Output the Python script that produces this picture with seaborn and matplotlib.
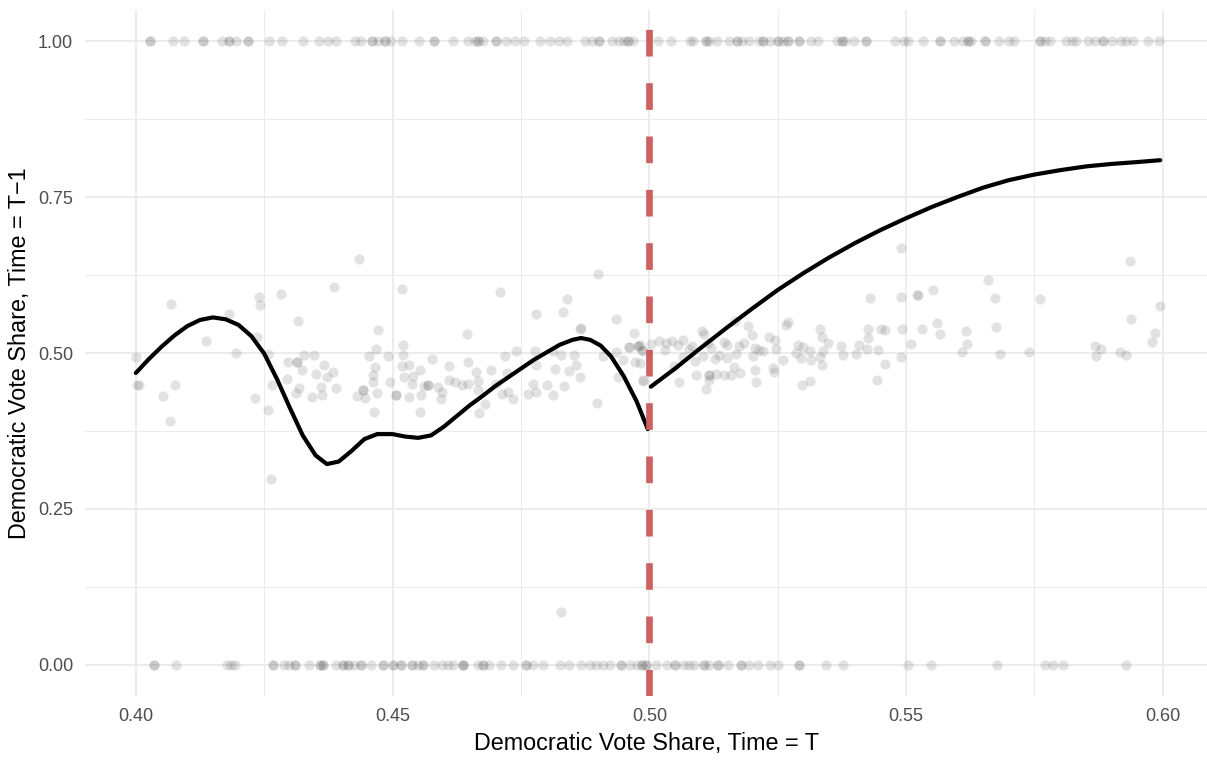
import matplotlib
matplotlib.use("Agg")
import matplotlib.pyplot as plt
import seaborn as sns
import pandas as pd
from matplotlib.ticker import MultipleLocator, FormatStrFormatter

# ---- data ----
top_x = [0.4028, 0.4028, 0.4073, 0.4094, 0.4131, 0.4131, 0.4167, 0.4181, 0.4181, 0.4196,
         0.4219, 0.4219, 0.4260, 0.4285, 0.4325, 0.4356, 0.4374, 0.4390, 0.4427, 0.4438,
         0.4460, 0.4460, 0.4472, 0.4486, 0.4486, 0.4497, 0.4519, 0.4552, 0.4580, 0.4580,
         0.4618, 0.4646, 0.4660, 0.4667, 0.4667, 0.4677, 0.4701, 0.4701, 0.4721, 0.4738,
         0.4756, 0.4788, 0.4806, 0.4825, 0.4840, 0.4874, 0.4889, 0.4901, 0.4901, 0.4927,
         0.4941, 0.4951, 0.4958, 0.4958, 0.4969,
         0.5017, 0.5042, 0.5080, 0.5086, 0.5111, 0.5111, 0.5117, 0.5131, 0.5155, 0.5171,
         0.5171, 0.5181, 0.5194, 0.5214, 0.5222, 0.5222, 0.5235, 0.5251, 0.5251, 0.5261,
         0.5271, 0.5271, 0.5291, 0.5291, 0.5315, 0.5328, 0.5365, 0.5375, 0.5375, 0.5382,
         0.5399, 0.5421, 0.5421, 0.5479, 0.5496, 0.5503, 0.5533, 0.5566, 0.5566, 0.5593,
         0.5610, 0.5620, 0.5620, 0.5626, 0.5653, 0.5653, 0.5680, 0.5700, 0.5710, 0.5760,
         0.5760, 0.5771, 0.5781, 0.5811, 0.5824, 0.5831, 0.5854, 0.5868, 0.5884, 0.5884,
         0.5901, 0.5918, 0.5928, 0.5942, 0.5972, 0.5993]

bottom_x = [0.4035, 0.4035, 0.4078, 0.4177, 0.4186, 0.4194, 0.4267, 0.4267, 0.4288, 0.4299,
            0.4309, 0.4309, 0.4337, 0.4358, 0.4358, 0.4365, 0.4365, 0.4389, 0.4403, 0.4403,
            0.4413, 0.4413, 0.4424, 0.4438, 0.4438, 0.4458, 0.4481, 0.4481, 0.4500, 0.4500,
            0.4517, 0.4517, 0.4538, 0.4538, 0.4549, 0.4559, 0.4559, 0.4580, 0.4597, 0.4608,
            0.4618, 0.4637, 0.4637, 0.4637, 0.4667, 0.4677, 0.4677, 0.4688, 0.4712, 0.4734,
            0.4760, 0.4760, 0.4774, 0.4792, 0.4826, 0.4844, 0.4867, 0.4885, 0.4896, 0.4910,
            0.4924, 0.4944, 0.4944, 0.4962, 0.4976, 0.4986, 0.4986,
            0.4993, 0.4993, 0.5013, 0.5034, 0.5050, 0.5050, 0.5067, 0.5077, 0.5087, 0.5107,
            0.5107, 0.5117, 0.5134, 0.5134, 0.5154, 0.5178, 0.5178, 0.5194, 0.5211, 0.5235,
            0.5251, 0.5291, 0.5291, 0.5345, 0.5377, 0.5503, 0.5549, 0.5677, 0.5771, 0.5787,
            0.5806, 0.5928]

mid_x = [0.4434, 0.4386, 0.4069, 0.4239, 0.4242, 0.4282, 0.4316, 0.4182, 0.4136, 0.4236,
         0.4195, 0.4258, 0.4001, 0.4297, 0.4314, 0.4314, 0.4327, 0.4347, 0.4323, 0.4366,
         0.4351, 0.4383, 0.4372, 0.4295, 0.4002, 0.4006, 0.4076, 0.4266, 0.4361, 0.4390,
         0.4317, 0.4312, 0.4343, 0.4362, 0.4053, 0.4232, 0.4257, 0.4066, 0.4264, 0.4431,
         # 0.445 - 0.50
         0.4518, 0.4709, 0.4900, 0.4839, 0.4831, 0.4779, 0.4935, 0.4471, 0.4645, 0.4864,
         0.4867, 0.4971, 0.4468, 0.4520, 0.4455, 0.4492, 0.4521, 0.4576, 0.4718, 0.4741,
         0.4778, 0.4812, 0.4828, 0.4854, 0.4909, 0.4936, 0.4948, 0.4961, 0.4961, 0.4977,
         0.4977, 0.4987, 0.4973, 0.4465, 0.4518, 0.4532, 0.4554, 0.4609, 0.4646, 0.4662,
         0.4692, 0.4723, 0.4779, 0.4817, 0.4844, 0.4857, 0.4461, 0.4523, 0.4540, 0.4864,
         0.4461, 0.4494, 0.4538, 0.4609, 0.4621, 0.4635, 0.4646, 0.4666, 0.4701, 0.4562,
         0.4569, 0.4569, 0.4589, 0.4596, 0.4667, 0.4773, 0.4800, 0.4834, 0.4938, 0.4987,
         0.4442, 0.4442, 0.4447, 0.4469, 0.4507, 0.4507, 0.4531, 0.4555, 0.4595, 0.4713,
         0.4724, 0.4734, 0.4764, 0.4780, 0.4812, 0.4464, 0.4553, 0.4668, 0.4680, 0.4898,
         0.4828,
         # 0.50 - 0.55
         0.5490, 0.5430, 0.5490, 0.5521, 0.5166, 0.5192, 0.5199, 0.5266, 0.5271, 0.5103,
         0.5106, 0.5332, 0.5336, 0.5347, 0.5426, 0.5426, 0.5452, 0.5459, 0.5492, 0.5510,
         0.4981, 0.4986, 0.5003, 0.5019, 0.5032, 0.5045, 0.5065, 0.5031, 0.5055, 0.5078,
         0.5084, 0.5114, 0.5120, 0.5146, 0.5151, 0.5175, 0.5185, 0.5205, 0.5221, 0.5234,
         0.5244, 0.5247, 0.5289, 0.5299, 0.5286, 0.5313, 0.5338, 0.5374, 0.5377, 0.5403,
         0.5409, 0.5423, 0.5445, 0.5490, 0.5065, 0.5088, 0.5104, 0.5127, 0.5136, 0.5151,
         0.5169, 0.5201, 0.5214, 0.5260, 0.5296, 0.5315, 0.5332, 0.5336, 0.5458, 0.4981,
         0.5048, 0.5091, 0.5117, 0.5117, 0.5129, 0.5146, 0.5159, 0.5177, 0.5164, 0.5205,
         0.5240, 0.5242, 0.5117, 0.5110, 0.5058, 0.5208, 0.4987, 0.5297, 0.5312, 0.5443,
         # 0.55 - 0.60
         0.5936, 0.5660, 0.5523, 0.5553, 0.5673, 0.5761, 0.5995, 0.5938, 0.5531, 0.5561,
         0.5566, 0.5616, 0.5675, 0.5984, 0.5979, 0.5619, 0.5609, 0.5682, 0.5740, 0.5868,
         0.5879, 0.5869, 0.5916, 0.5929]

mid_y = [0.650, 0.605, 0.578, 0.590, 0.577, 0.594, 0.551, 0.562, 0.520, 0.526,
         0.500, 0.499, 0.493, 0.485, 0.485, 0.485, 0.496, 0.496, 0.473, 0.480,
         0.467, 0.469, 0.462, 0.459, 0.449, 0.449, 0.449, 0.449, 0.445, 0.444,
         0.444, 0.436, 0.429, 0.432, 0.431, 0.428, 0.408, 0.391, 0.298, 0.431,
         0.603, 0.597, 0.626, 0.586, 0.565, 0.562, 0.555, 0.537, 0.531, 0.539,
         0.540, 0.532, 0.507, 0.513, 0.495, 0.495, 0.497, 0.491, 0.495, 0.504,
         0.504, 0.504, 0.497, 0.497, 0.495, 0.501, 0.489, 0.510, 0.510, 0.511,
         0.511, 0.503, 0.485, 0.478, 0.479, 0.480, 0.472, 0.479, 0.485, 0.470,
         0.473, 0.468, 0.481, 0.474, 0.471, 0.480, 0.464, 0.462, 0.463, 0.461,
         0.454, 0.454, 0.450, 0.456, 0.453, 0.448, 0.451, 0.455, 0.451, 0.447,
         0.448, 0.448, 0.445, 0.437, 0.440, 0.450, 0.449, 0.447, 0.462, 0.456,
         0.441, 0.441, 0.428, 0.436, 0.432, 0.432, 0.429, 0.433, 0.427, 0.435,
         0.437, 0.427, 0.435, 0.437, 0.432, 0.405, 0.406, 0.404, 0.419, 0.420,
         0.085,
         0.669, 0.588, 0.590, 0.593, 0.551, 0.543, 0.529, 0.545, 0.549, 0.535,
         0.531, 0.538, 0.526, 0.516, 0.538, 0.524, 0.539, 0.537, 0.538, 0.514,
         0.513, 0.505, 0.515, 0.519, 0.516, 0.520, 0.521, 0.505, 0.513, 0.506,
         0.511, 0.516, 0.508, 0.517, 0.513, 0.511, 0.516, 0.508, 0.504, 0.525,
         0.521, 0.506, 0.513, 0.510, 0.500, 0.504, 0.503, 0.512, 0.497, 0.499,
         0.513, 0.507, 0.505, 0.493, 0.493, 0.487, 0.495, 0.490, 0.497, 0.492,
         0.499, 0.495, 0.505, 0.489, 0.492, 0.489, 0.493, 0.481, 0.483, 0.484,
         0.479, 0.465, 0.464, 0.464, 0.466, 0.465, 0.464, 0.468, 0.477, 0.473,
         0.476, 0.470, 0.457, 0.443, 0.453, 0.453, 0.455, 0.448, 0.455, 0.457,
         0.647, 0.617, 0.593, 0.601, 0.588, 0.587, 0.576, 0.555, 0.538, 0.548,
         0.531, 0.536, 0.542, 0.532, 0.518, 0.514, 0.501, 0.498, 0.501, 0.511,
         0.506, 0.495, 0.501, 0.496]

# smoothed fits (left and right of the cutoff)
left_fit_x = [0.400, 0.4025, 0.405, 0.4075, 0.410, 0.4125, 0.415, 0.4175, 0.420, 0.4225,
              0.425, 0.4275, 0.430, 0.4325, 0.435, 0.4372, 0.4395, 0.442, 0.4445, 0.447,
              0.450, 0.4525, 0.455, 0.4575, 0.460, 0.4625, 0.465, 0.4675, 0.470, 0.4725,
              0.475, 0.4775, 0.480, 0.4825, 0.485, 0.4867, 0.4885, 0.4905, 0.4925, 0.495,
              0.4975, 0.4997]
left_fit_y = [0.468, 0.490, 0.510, 0.528, 0.543, 0.553, 0.557, 0.554, 0.545, 0.527,
              0.499, 0.458, 0.412, 0.368, 0.336, 0.322, 0.326, 0.343, 0.362, 0.370,
              0.370, 0.366, 0.364, 0.368, 0.382, 0.399, 0.416, 0.431, 0.447, 0.461,
              0.475, 0.489, 0.501, 0.513, 0.521, 0.524, 0.521, 0.512, 0.495, 0.463,
              0.423, 0.378]
right_fit_x = [0.5003, 0.505, 0.510, 0.515, 0.520, 0.525, 0.530, 0.535, 0.540, 0.545,
               0.550, 0.555, 0.560, 0.565, 0.570, 0.575, 0.580, 0.585, 0.590, 0.595, 0.5995]
right_fit_y = [0.446, 0.475, 0.508, 0.540, 0.571, 0.601, 0.628, 0.653, 0.676, 0.697,
               0.716, 0.734, 0.750, 0.765, 0.777, 0.786, 0.793, 0.799, 0.803, 0.806, 0.809]

cutoff = 0.5
x_ticks = [0.40, 0.45, 0.50, 0.55, 0.60]
y_ticks = [0.00, 0.25, 0.50, 0.75, 1.00]
x_title = "Democratic Vote Share, Time = T"
y_title = "Democratic Vote Share, Time = T\u22121"

# ---- build frames ----
pts = pd.DataFrame({
    "x": top_x + bottom_x + mid_x,
    "y": [1.0] * len(top_x) + [0.0] * len(bottom_x) + mid_y,
})
left_fit = pd.DataFrame({"x": left_fit_x, "y": left_fit_y})
right_fit = pd.DataFrame({"x": right_fit_x, "y": right_fit_y})

sns.set_theme(style="white")
plt.rcParams["font.family"] = ["Liberation Sans", "DejaVu Sans"]

W, H = 1207, 761
fig = plt.figure(figsize=(W / 100, H / 100), dpi=100)
ax = fig.add_axes([85 / W, 65 / H, (W - 85) / W, 686 / H])

grid_c = "#EBEBEB"
ax.set_xlim(0.3901, 0.6086)
ax.set_ylim(-0.0497, 1.0497)
ax.xaxis.set_major_locator(MultipleLocator(0.05))
ax.xaxis.set_minor_locator(MultipleLocator(0.025))
ax.yaxis.set_major_locator(MultipleLocator(0.25))
ax.yaxis.set_minor_locator(MultipleLocator(0.125))
ax.grid(which="major", color=grid_c, linewidth=1.3, zorder=0)
ax.grid(which="minor", color=grid_c, linewidth=0.7, zorder=0)
ax.set_axisbelow(True)
for s in ax.spines.values():
    s.set_visible(False)

sns.scatterplot(data=pts, x="x", y="y", ax=ax, color="#4D4D4D", alpha=0.16,
                s=54, linewidth=0, zorder=2, legend=False)
sns.lineplot(data=left_fit, x="x", y="y", ax=ax, color="black", linewidth=3.0,
             sort=False, estimator=None, zorder=3)
sns.lineplot(data=right_fit, x="x", y="y", ax=ax, color="black", linewidth=3.0,
             sort=False, estimator=None, zorder=3)
ax.plot([cutoff, cutoff], [-0.0497, 1.0497], color="#D05F5F", linewidth=4.8,
        linestyle=(0, (4, 4)), solid_capstyle="butt", dash_capstyle="butt", zorder=4)

ax.set_xticks(x_ticks)
ax.set_yticks(y_ticks)
ax.xaxis.set_major_formatter(FormatStrFormatter("%.2f"))
ax.yaxis.set_major_formatter(FormatStrFormatter("%.2f"))
ax.tick_params(axis="both", which="both", length=0, labelsize=13.0,
               labelcolor="#4D4D4D", pad=8.6)

ax.set_xlabel(x_title, fontsize=16.8, color="black", labelpad=5)
ax.set_ylabel(y_title, fontsize=16.8, color="black", labelpad=5)

fig.savefig("out.png", dpi=100, facecolor="white")
